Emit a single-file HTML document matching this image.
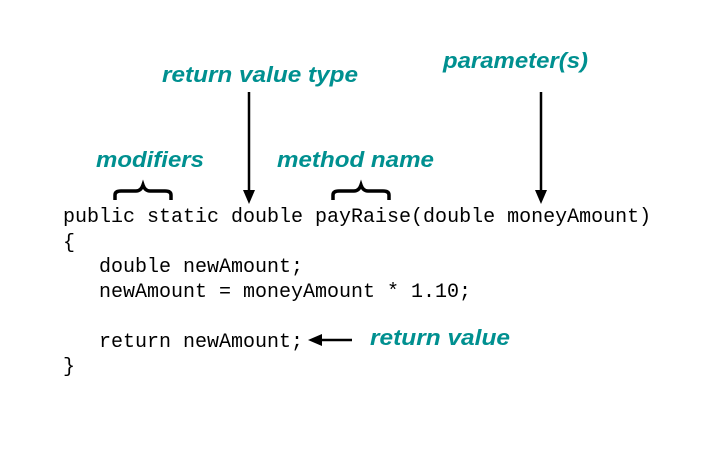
<!DOCTYPE html>
<html><head><style>html,body{margin:0;padding:0;background:#fff}</style></head>
<body>
<svg width="704" height="448" xmlns="http://www.w3.org/2000/svg">
<g font-family="Liberation Sans, sans-serif" font-weight="bold" font-style="italic" font-size="22" fill="#009090">
<text x="162" y="82" textLength="196" lengthAdjust="spacingAndGlyphs">return value type</text>
<text x="443" y="68" textLength="145" lengthAdjust="spacingAndGlyphs">parameter(s)</text>
<text x="96" y="167" textLength="108" lengthAdjust="spacingAndGlyphs">modifiers</text>
<text x="277" y="167" textLength="157" lengthAdjust="spacingAndGlyphs">method name</text>
<text x="370" y="345" textLength="140" lengthAdjust="spacingAndGlyphs">return value</text>
</g>
<g stroke="#000" stroke-width="2.5" fill="none">
<line x1="249" y1="92" x2="249" y2="194"/>
<line x1="541" y1="92" x2="541" y2="194"/>
<line x1="352" y1="340" x2="318" y2="340"/>
</g>
<g stroke="#000" stroke-width="3.5" fill="none">
<path d="M115,200 V195 Q115,191 121,191 H136 Q141,191 143,185 Q145,191 150,191 H165 Q171,191 171,195 V200"/>
<path d="M333,200 V195 Q333,191 339,191 H354 Q359,191 361,185 Q363,191 368,191 H383 Q389,191 389,195 V200"/>
</g>
<g fill="#000">
<polygon points="243,190 255,190 249,204"/>
<polygon points="535,190 547,190 541,204"/>
<polygon points="322,334 322,346 308,340"/>
</g>
<g font-family="Liberation Mono, monospace" font-size="20" fill="#000">
<text x="63" y="222" xml:space="preserve">public static double payRaise(double moneyAmount)</text>
<text x="63" y="248">{</text>
<text x="99" y="272">double newAmount;</text>
<text x="99" y="297">newAmount = moneyAmount * 1.10;</text>
<text x="99" y="347">return newAmount;</text>
<text x="63" y="372">}</text>
</g>
</svg>
</body></html>
